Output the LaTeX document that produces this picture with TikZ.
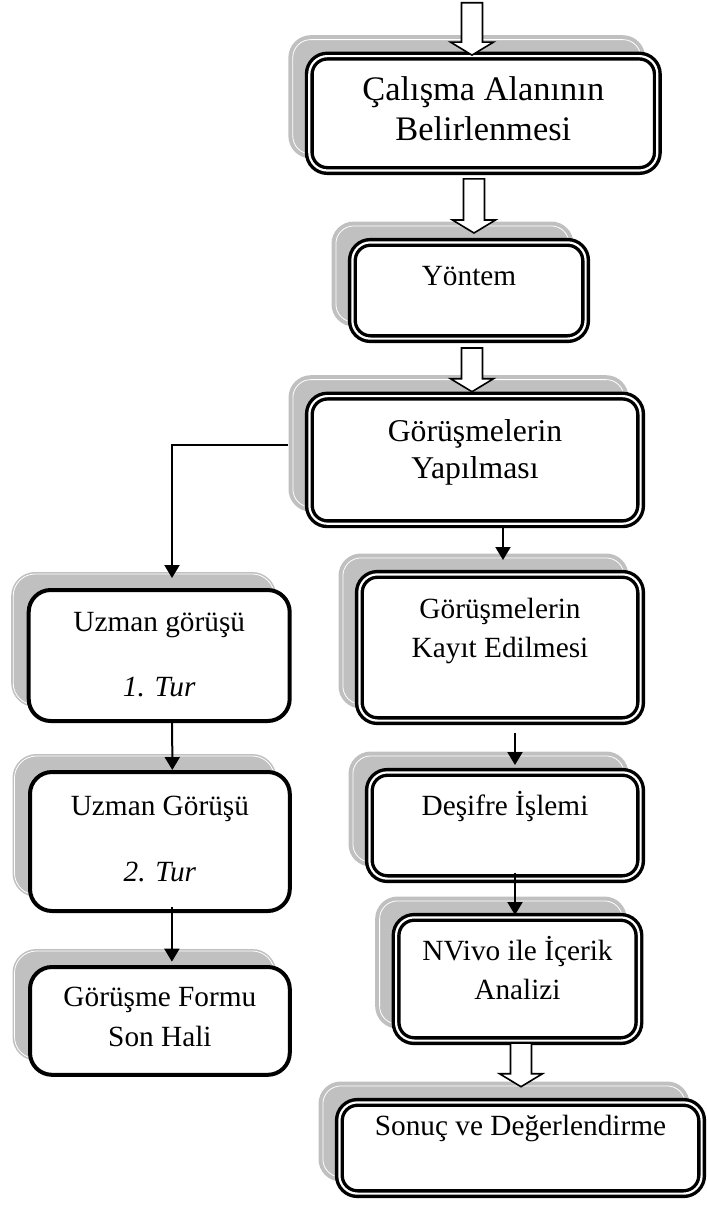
\documentclass[tikz,border=0pt]{standalone}
\usepackage{fontspec}
\setmainfont{Liberation Serif}
\usetikzlibrary{arrows.meta,shadows,calc}

\definecolor{shadowgray}{RGB}{192,192,192}

\newcommand{\boxtext}[1]{\begin{tabular}[t]{@{}c@{}}#1\end{tabular}}
\newcommand{\blockarrow}[2]{%
  \draw[blockarr] let \p1=(#1), \p2=(#2) in
    (\x1-5.25pt,\y1) -- (\x1-5.25pt,\y2+6.5pt) -- (\x1-10.75pt,\y2+6.5pt) -- (\x1,\y2)
    -- (\x1+10.75pt,\y2+6.5pt) -- (\x1+5.25pt,\y2+6.5pt) -- (\x1+5.25pt,\y1) -- cycle;}

\tikzset{
  dbox/.style={draw=black, double=white, line width=1.7pt, double distance=1.1pt,
    fill=white, rounded corners=9pt, inner sep=0pt, outer sep=0pt, text height=0pt,
    general shadow={draw=shadowgray, double=white, line width=2pt, double distance=0.4pt,
      fill=shadowgray, shadow xshift=-8.25pt, shadow yshift=8.25pt},
    font=\fontsize{14.65}{19.5}\selectfont},
  sbox/.style={draw=black, line width=2pt, fill=white, rounded corners=11pt,
    inner sep=0pt, outer sep=0pt, text height=0pt,
    general shadow={draw=shadowgray, double=white, line width=0.8pt, double distance=0.4pt,
      fill=shadowgray, shadow xshift=-7.75pt, shadow yshift=8pt},
    font=\fontsize{14.65}{19.5}\selectfont},
  arr/.style={line width=1pt, -{Triangle[length=6.5pt,width=7.5pt]}},
  blockarr/.style={draw=black, fill=white, line width=0.8pt}
}

\begin{document}
\begin{tikzpicture}[x=0.5pt,y=-0.5pt]
	\useasboundingbox (0,0) rectangle (707,1207);

	\node[dbox, minimum width=174pt, minimum height=57.2pt, text depth=13.3pt, font=\fontsize{17.2}{20}\selectfont] (calisma) at (483.3,113.3) {\boxtext{Çalışma Alanının\\Belirlenmesi}};
	\node[dbox, minimum width=116.6pt, minimum height=48.1pt, text depth=5.5pt] (yontem) at (469,290.5) {\boxtext{Yöntem}};
	\node[dbox, minimum width=165.6pt, minimum height=63.8pt, text depth=18.2pt, font=\fontsize{15.85}{18.3}\selectfont] (yapilmasi) at (475,459.9) {\boxtext{Görüşmelerin\\Yapılması}};
	\node[dbox, minimum width=140.6pt, minimum height=73.1pt, text depth=29.5pt] (kayit) at (500,647.5) {\boxtext{Görüşmelerin\\Kayıt Edilmesi}};
	\node[dbox, minimum width=135.6pt, minimum height=53.1pt, text depth=10.5pt] (desifre) at (505,825.5) {\boxtext{Deşifre İşlemi}};
	\node[dbox, minimum width=121.4pt, minimum height=61.6pt, text depth=19pt] (nvivo) at (517.5,979) {\boxtext{NVivo ile İçerik\\Analizi}};
	\node[dbox, minimum width=181.1pt, minimum height=45.6pt, text depth=13pt] (sonuc) at (520.5,1148) {\boxtext{Sonuç ve Değerlendirme}};

	\node[sbox, minimum width=130.5pt, minimum height=65.5pt, text depth=23.8pt] (uzman1) at (159.2,655.5) {\boxtext{Uzman görüşü\\[13pt]\textit{1. Tur}}};
	\node[sbox, minimum width=129.9pt, minimum height=69.5pt, text depth=26.5pt] (uzman2) at (159.9,841.5) {\boxtext{Uzman Görüşü\\[13.8pt]\textit{2. Tur}}};
	\node[sbox, minimum width=129.9pt, minimum height=53.9pt, text depth=14.2pt] (form) at (159.9,1020.9) {\boxtext{Görüşme Formu\\[0.5pt]Son Hali}};

	\coordinate (giris) at (472,2.7);

	\blockarrow{giris}{[xshift=-5.65pt,yshift=0.5pt]calisma.north}
	\blockarrow{[xshift=-4.65pt,yshift=-4.2pt]calisma.south}{[yshift=4.7pt]yontem.north}
	\blockarrow{[xshift=1.5pt,yshift=-4.7pt]yontem.south}{[yshift=2.2pt]yapilmasi.north}
	\blockarrow{[xshift=1.75pt,yshift=-1.2pt]nvivo.south}{[yshift=7.85pt]sonuc.north}

	\draw[arr] ([xshift=14pt,yshift=-2.2pt]yapilmasi.south) -- ([xshift=1.5pt,yshift=7.2pt]kayit.north);
	\draw[arr] ([xshift=7.5pt,yshift=-6.2pt]kayit.south) -- ([xshift=5pt,yshift=3.7pt]desifre.north);
	\draw[arr] ([xshift=5pt,yshift=2.8pt]desifre.south) -- ([xshift=-1.25pt,yshift=1.2pt]nvivo.north);
	\draw[arr] ([xshift=-10.7pt,yshift=7.45pt]yapilmasi.west) -| ([xshift=6.4pt,yshift=6pt]uzman1.north);
	\draw[arr] ([xshift=6.5pt,yshift=-1pt]uzman1.south) -- ([xshift=6.2pt,yshift=1pt]uzman2.north);
	\draw[arr] ([xshift=6pt,yshift=2.15pt]uzman2.south) -- ([xshift=6pt,yshift=2.65pt]form.north);
\end{tikzpicture}
\end{document}
